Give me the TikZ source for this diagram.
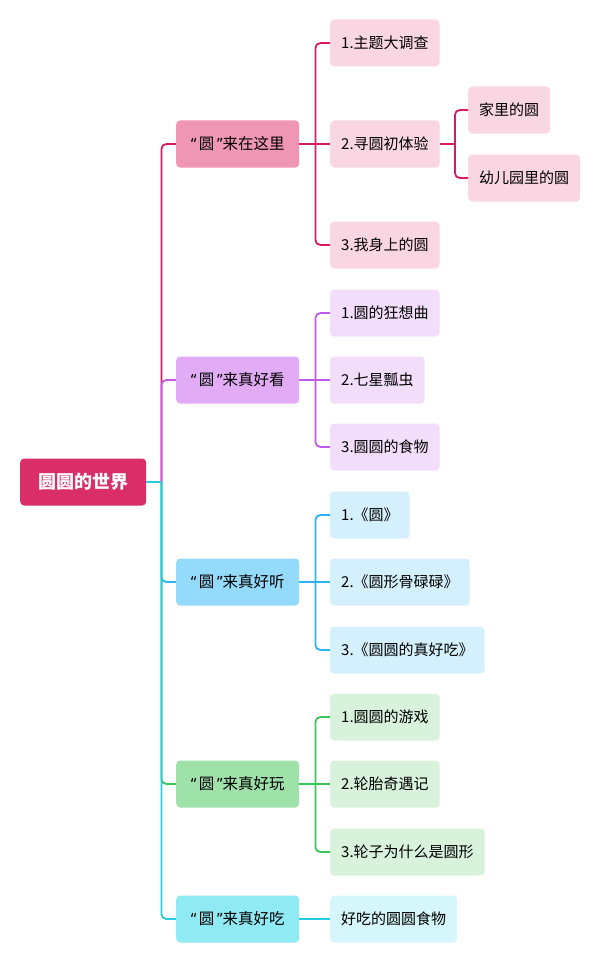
\documentclass[tikz,border=0pt]{standalone}
\usepackage{fontspec}
\setmainfont{Noto Sans CJK SC}
\newfontfamily\latinfont{Noto Sans}
\usepackage{tikz}
\usetikzlibrary{positioning}
\definecolor{rootc}{HTML}{DA2E69}
\definecolor{redline}{HTML}{D81B60}
\definecolor{redtop}{HTML}{EE96B3}
\definecolor{redsub}{HTML}{F9D6E1}
\definecolor{purpline}{HTML}{BE5BE8}
\definecolor{purptop}{HTML}{E1ABF6}
\definecolor{purpsub}{HTML}{F2DEFA}
\definecolor{blueline}{HTML}{2AB4F2}
\definecolor{bluetop}{HTML}{93DAFB}
\definecolor{bluesub}{HTML}{D5F0FD}
\definecolor{greenline}{HTML}{3CC65A}
\definecolor{greentop}{HTML}{9EE2AA}
\definecolor{greensub}{HTML}{D8F2DC}
\definecolor{cyanline}{HTML}{26CBDD}
\definecolor{cyantop}{HTML}{8FEAF3}
\definecolor{cyansub}{HTML}{D5F6FA}
\newcommand{\quo}[1]{{\latinfont “}\,#1\,{\latinfont ”}}

\begin{document}
\begin{tikzpicture}[
    x=1pt, y=-1pt,
    box/.style={rounded corners=4pt, minimum height=47pt, inner xsep=11pt, anchor=west, font=\fontsize{15}{18}\selectfont},
    topic/.style={box, inner xsep=6pt, minimum width=123pt, font=\fontsize{15.5}{18}\selectfont},
    link/.style={line width=1.8pt, rounded corners=5pt}
  ]
    \useasboundingbox (0,0) rectangle (600,963);

    % centre
    \node[box, fill=rootc, text=white, minimum width=126pt, font=\fontsize{18}{21}\selectfont\bfseries] (root) at (20,482) {圆圆的世界};

    % first level
    \node[topic, fill=redtop]   (here)  at (176,144) {\quo{圆}来在这里};
    \node[topic, fill=purptop]  (look)  at (176,380) {\quo{圆}来真好看};
    \node[topic, fill=bluetop]  (hear)  at (176,582) {\quo{圆}来真好听};
    \node[topic, fill=greentop] (play)  at (176,784) {\quo{圆}来真好玩};
    \node[topic, fill=cyantop]  (taste) at (176,919) {\quo{圆}来真好吃};

    % second level
    \node[box, fill=redsub] (here1) at (330,43)  {1.主题大调查};
    \node[box, fill=redsub] (here2) at (330,144) {2.寻圆初体验};
    \node[box, fill=redsub] (here3) at (330,245) {3.我身上的圆};
    \node[box, fill=redsub] (home)  at (468,110) {家里的圆};
    \node[box, fill=redsub] (kind)  at (468,178) {幼儿园里的圆};

    \node[box, fill=purpsub] (look1) at (330,313) {1.圆的狂想曲};
    \node[box, fill=purpsub] (look2) at (330,380) {2.七星瓢虫};
    \node[box, fill=purpsub] (look3) at (330,447) {3.圆圆的食物};

    \node[box, fill=bluesub] (hear1) at (330,515) {1.《圆》};
    \node[box, fill=bluesub] (hear2) at (330,582) {2.《圆形骨碌碌》};
    \node[box, fill=bluesub] (hear3) at (330,650) {3.《圆圆的真好吃》};

    \node[box, fill=greensub] (play1) at (330,717) {1.圆圆的游戏};
    \node[box, fill=greensub] (play2) at (330,784) {2.轮胎奇遇记};
    \node[box, fill=greensub] (play3) at (330,852) {3.轮子为什么是圆形};

    \node[box, fill=cyansub] (taste1) at (330,919) {好吃的圆圆食物};

    % junctions
    \coordinate (rootJ) at ([xshift=15pt]root.east);
    \coordinate (hereJ) at ([xshift=16pt]here.east);
    \coordinate (here2J) at ([xshift=15pt]here2.east);
    \coordinate (lookJ) at ([xshift=16pt]look.east);
    \coordinate (hearJ) at ([xshift=16pt]hear.east);
    \coordinate (playJ) at ([xshift=16pt]play.east);

    % connectors
    \draw[link, redline] (root.east) -- (rootJ);
    \draw[link, redline] (rootJ) |- (here.west);
    \draw[link, purpline] (rootJ) |- (look.west);
    \draw[link, blueline] (rootJ) |- (hear.west);
    \draw[link, greenline] (rootJ) |- (play.west);
    \draw[link, cyanline] (rootJ) |- (taste.west);
    \draw[link, cyanline] (root.east) -- (rootJ);

    \draw[link, redline] (here.east) -- (here2.west);
    \foreach \c in {here1,here3}
      \draw[link, redline] (hereJ) |- (\c.west);
    \draw[link, redline] (here2.east) -- (here2J);
    \foreach \c in {home,kind}
      \draw[link, redline] (here2J) |- (\c.west);
    \draw[link, purpline] (look.east) -- (look2.west);
    \foreach \c in {look1,look3}
      \draw[link, purpline] (lookJ) |- (\c.west);
    \draw[link, blueline] (hear.east) -- (hear2.west);
    \foreach \c in {hear1,hear3}
      \draw[link, blueline] (hearJ) |- (\c.west);
    \draw[link, greenline] (play.east) -- (play2.west);
    \foreach \c in {play1,play3}
      \draw[link, greenline] (playJ) |- (\c.west);
    \draw[link, cyanline] (taste.east) -- (taste1.west);
  \end{tikzpicture}
\end{document}
